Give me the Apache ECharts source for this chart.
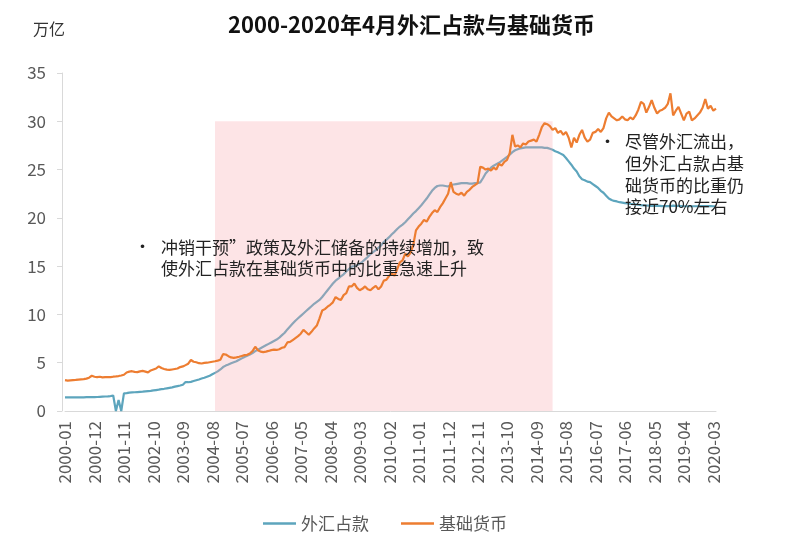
<!DOCTYPE html>
<html>
<head>
<meta charset="utf-8">
<script src="https://cdn.jsdelivr.net/npm/echarts@6/dist/echarts.min.js"></script>
<style>
html,body{margin:0;padding:0;background:#fff;}
#main{width:797px;height:555px;}
</style>
</head>
<body>
<div id="main"></div>
<script>
// ---- data (万亿) ----
const startYear = 2000;
const endYear = 2020, endMonth = 4;
const seriesNames = ['外汇占款', '基础货币'];
const shadeRange = ['2004-09', '2015-03'];
const shadeTop = 30;

// 外汇占款, monthly, 2000-01 .. 2020-04
const wh2000 = [1.41,1.42,1.42,1.42,1.42,1.42,1.42,1.42,1.43,1.43,1.43,1.43];
const wh2001 = [1.45,1.47,1.49,1.50,1.52,1.55,1.60,0.00,1.15,0.00,1.82,1.85];
const wh2002 = [1.90,1.92,1.94,1.96,1.98,2.00,2.03,2.06,2.09,2.13,2.17,2.21];
const wh2003 = [2.26,2.30,2.35,2.40,2.45,2.52,2.58,2.64,2.72,3.00,2.98,3.02];
const wh2004 = [3.10,3.18,3.26,3.36,3.45,3.55,3.65,3.80,3.95,4.10,4.30,4.55];
const wh2005 = [4.70,4.82,4.95,5.05,5.15,5.30,5.45,5.60,5.72,5.85,6.00,6.20];
const wh2006 = [6.35,6.50,6.65,6.80,6.95,7.10,7.25,7.40,7.60,7.85,8.10,8.45];
const wh2007 = [8.75,9.05,9.35,9.60,9.85,10.10,10.35,10.60,10.85,11.10,11.30,11.50];
const wh2008 = [11.80,12.15,12.50,12.85,13.20,13.50,13.70,13.95,14.15,14.45,14.70,14.95];
const wh2009 = [15.00,15.10,15.25,15.45,15.70,15.95,16.25,16.45,16.65,16.90,17.15,17.50];
const wh2010 = [17.75,18.00,18.30,18.55,18.85,19.10,19.30,19.55,19.85,20.15,20.45,20.70];
const wh2011 = [21.00,21.30,21.65,22.00,22.40,22.80,23.10,23.30,23.35,23.35,23.30,23.25];
const wh2012 = [23.40,23.45,23.50,23.55,23.60,23.60,23.60,23.55,23.55,23.60,23.60,23.67];
const wh2013 = [24.10,24.60,24.90,25.20,25.40,25.55,25.70,25.90,26.10,26.30,26.55,26.80];
const wh2014 = [27.00,27.10,27.20,27.25,27.30,27.30,27.30,27.30,27.30,27.30,27.30,27.25];
const wh2015 = [27.25,27.15,27.05,26.90,26.80,26.65,26.50,26.20,25.85,25.50,25.10,24.80];
const wh2016 = [24.30,24.00,23.90,23.75,23.70,23.50,23.30,23.10,22.80,22.60,22.30,22.00];
const wh2017 = [21.85,21.75,21.70,21.62,21.58,21.52,21.50,21.45,21.42,21.40,21.36,21.32];
const wh2018 = [21.30,21.28,21.26,21.25,21.25,21.24,21.24,21.22,21.22,21.22,21.22,21.26];
const wh2019 = [21.25,21.24,21.22,21.20,21.20,21.20,21.20,21.20,21.20,21.21,21.22,21.23];
const wh2020 = [21.22,21.21,21.20,21.19];

// 基础货币, monthly, 2000-01 .. 2020-04
const jc2000 = [3.20,3.15,3.18,3.20,3.22,3.25,3.28,3.30,3.35,3.45,3.65,3.55];
const jc2001 = [3.50,3.55,3.48,3.50,3.52,3.50,3.55,3.58,3.62,3.68,3.75,3.99];
const jc2002 = [4.08,4.12,4.05,4.02,4.10,4.15,4.08,4.00,4.20,4.30,4.40,4.62];
const jc2003 = [4.45,4.35,4.28,4.25,4.30,4.35,4.40,4.55,4.62,4.75,4.90,5.28];
const jc2004 = [5.10,5.05,4.95,4.92,4.98,5.00,5.05,5.10,5.15,5.22,5.30,5.89];
const jc2005 = [5.85,5.68,5.55,5.50,5.55,5.62,5.70,5.78,5.82,5.95,6.20,6.65];
const jc2006 = [6.30,6.15,6.10,6.15,6.22,6.30,6.35,6.32,6.40,6.55,6.62,7.10];
const jc2007 = [7.15,7.35,7.55,7.75,8.00,8.40,8.15,7.90,8.20,8.55,8.85,9.60];
const jc2008 = [10.40,10.55,10.80,11.00,11.25,11.80,11.60,11.50,12.00,12.20,12.90,12.90];
const jc2009 = [13.20,12.75,12.50,12.65,12.90,12.60,12.50,12.75,12.95,12.60,12.90,13.50];
const jc2010 = [13.60,14.00,14.25,14.00,14.70,15.40,15.60,16.30,16.00,16.40,17.20,18.70];
const jc2011 = [19.10,19.40,19.80,19.60,20.10,20.50,20.80,20.60,21.10,21.50,22.00,22.50];
const jc2012 = [23.70,22.70,22.50,22.40,22.60,22.30,22.70,22.90,23.20,23.40,23.60,25.30];
const jc2013 = [25.20,25.00,25.10,24.90,25.20,25.00,25.60,25.40,25.80,26.00,26.70,28.60];
const jc2014 = [27.40,27.50,27.30,27.70,27.60,27.90,28.00,28.10,27.90,28.60,29.40,29.80];
const jc2015 = [29.70,29.50,29.10,29.30,28.80,29.00,28.60,28.90,28.30,27.30,28.30,27.80];
const jc2016 = [28.60,29.10,28.30,27.90,28.10,28.80,28.90,29.20,28.90,29.30,30.30,30.90];
const jc2017 = [30.50,30.30,30.10,30.20,30.50,30.20,30.10,30.40,30.20,30.60,31.20,32.00];
const jc2018 = [31.80,30.90,31.50,32.20,31.40,30.80,31.10,31.20,31.40,31.80,32.90,30.60];
const jc2019 = [31.10,31.50,30.80,30.10,30.80,31.00,30.10,30.30,30.60,30.90,31.40,32.30];
const jc2020 = [31.30,31.60,31.10,31.30];

const waihui = [].concat(wh2000,wh2001,wh2002,wh2003,wh2004,wh2005,wh2006,wh2007,wh2008,wh2009,
  wh2010,wh2011,wh2012,wh2013,wh2014,wh2015,wh2016,wh2017,wh2018,wh2019,wh2020);
const jichu = [].concat(jc2000,jc2001,jc2002,jc2003,jc2004,jc2005,jc2006,jc2007,jc2008,jc2009,
  jc2010,jc2011,jc2012,jc2013,jc2014,jc2015,jc2016,jc2017,jc2018,jc2019,jc2020);

const months = [];
for (let y = startYear; y <= endYear; y++) {
  for (let m = 1; m <= 12; m++) {
    if (y === endYear && m > endMonth) break;
    months.push(y + '-' + (m < 10 ? '0' + m : '' + m));
  }
}

const FONT = '"Noto Sans CJK SC", "Noto Sans", sans-serif';
const chart = echarts.init(document.getElementById('main'), null, {renderer: 'canvas'});

chart.setOption({
  animation: false,
  backgroundColor: '#ffffff',
  title: {
    text: '2000-2020年4月外汇占款与基础货币',
    left: 223, top: 9,
    textStyle: {fontSize: 22, fontWeight: 'bold', color: '#111', fontFamily: FONT}
  },
  legend: {
    data: seriesNames,
    left: 258, top: 510,
    icon: 'rect', itemWidth: 33, itemHeight: 2.5, itemGap: 32,
    textStyle: {fontSize: 17, color: '#595959', fontFamily: FONT}
  },
  grid: {left: 65, right: 81, top: 73, bottom: 144, containLabel: false},
  xAxis: {
    type: 'category',
    data: months,
    boundaryGap: false,
    axisLine: {show: true, lineStyle: {color: '#d9d9d9', width: 1}},
    axisTick: {show: false},
    axisLabel: {
      interval: 10, rotate: 90, margin: 10,
      fontSize: 17, color: '#595959', fontFamily: FONT
    },
    splitLine: {show: false}
  },
  yAxis: {
    type: 'value', min: 0, max: 35, interval: 5, offset: 3,
    axisLine: {show: true, lineStyle: {color: '#d9d9d9'}},
    axisTick: {show: true, length: 5, lineStyle: {color: '#d9d9d9'}},
    axisLabel: {fontSize: 17, color: '#595959', margin: 16, fontFamily: FONT},
    splitLine: {show: false}
  },
  series: [
    {
      name: seriesNames[0], type: 'line', data: waihui, z: 1,
      symbol: 'none', color: '#5DA5BD',
      lineStyle: {width: 2.2, color: '#5DA5BD'},
      markArea: {
        z: 2, silent: true,
        itemStyle: {color: 'rgba(248,165,172,0.30)'},
        data: [[{coord: [shadeRange[0], 0]}, {coord: [shadeRange[1], shadeTop]}]]
      }
    },
    {
      name: seriesNames[1], type: 'line', data: jichu, z: 3,
      symbol: 'none', color: '#ED7D31',
      lineStyle: {width: 2.2, color: '#ED7D31'}
    }
  ],
  graphic: [
    {type: 'text', left: 33, top: 21, z: 10,
     style: {text: '万亿', fontSize: 16, fill: '#333', fontFamily: FONT}},
    {type: 'text', x: 134, y: 247, z: 10,
     style: {text: '•', fontSize: 17, fill: '#222', fontFamily: FONT, verticalAlign: 'middle'}},
    {type: 'text', x: 161, y: 237, z: 10,
     style: {text: '冲销干预”政策及外汇储备的持续增加，致\n使外汇占款在基础货币中的比重急速上升',
             fontSize: 17, lineHeight: 21, fill: '#222', fontFamily: FONT, verticalAlign: 'top'}},
    {type: 'text', x: 599, y: 142, z: 10,
     style: {text: '•', fontSize: 17, fill: '#222', fontFamily: FONT, verticalAlign: 'middle'}},
    {type: 'text', x: 625, y: 131, z: 10,
     style: {text: '尽管外汇流出，\n但外汇占款占基\n础货币的比重仍\n接近70%左右',
             fontSize: 17, lineHeight: 21.7, fill: '#222', fontFamily: FONT, verticalAlign: 'top'}}
  ]
});
</script>
</body>
</html>
